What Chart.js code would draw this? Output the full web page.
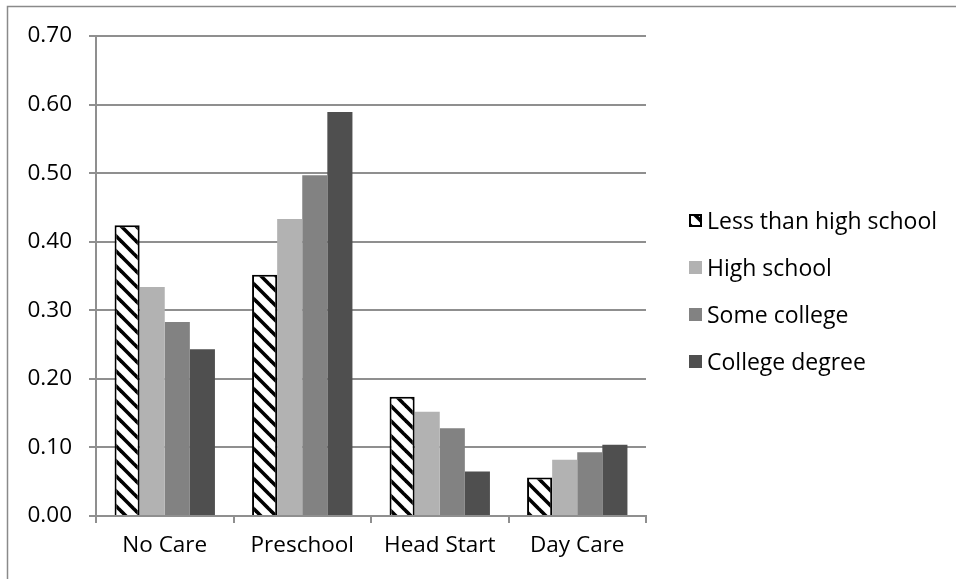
<!DOCTYPE html>
<html>
<head>
<meta charset="utf-8">
<script src="https://cdn.jsdelivr.net/npm/chart.js@4"></script>
<style>
  html, body { margin: 0; padding: 0; background: #fff; }
  #wrap { position: relative; width: 956px; height: 579px; }
</style>
</head>
<body>
<div id="wrap"><canvas id="grafico" width="956" height="579"></canvas></div>
<script>
// datos del grafico
var categorias = ["No Care", "Preschool", "Head Start", "Day Care"];
var series = ["Less than high school", "High school", "Some college", "College degree"];
var menosSecundaria = [0.424, 0.352, 0.174, 0.056];
var secundaria = [0.334, 0.433, 0.152, 0.082];
var algoUniversidad = [0.283, 0.497, 0.128, 0.093];
var universidad = [0.243, 0.589, 0.065, 0.104];
var ticksY = [0, 0.1, 0.2, 0.3, 0.4, 0.5, 0.6, 0.7];

var fuente = "'Open Sans', sans-serif";
var tamano = 22.5;
var tamanoLeyenda = 23;

// trama de rayas diagonales para la primera serie
function crearTrama() {
    var t = 15;
    var c = document.createElement("canvas");
    c.width = t; c.height = t;
    var g = c.getContext("2d");
    g.fillStyle = "#fff";
    g.fillRect(0, 0, t, t);
    g.strokeStyle = "#000";
    g.lineWidth = 3.6;
    for (var k = -1; k <= 1; k++) {
        g.beginPath();
        g.moveTo(k * t - 2, -2);
        g.lineTo(k * t + t + 2, t + 2);
        g.stroke();
    }
    return g.createPattern(c, "repeat");
}
var trama = crearTrama();

var colores = [trama, "#b2b2b2", "#828282", "#4f4f4f"];
var valores = [menosSecundaria, secundaria, algoUniversidad, universidad];

// marco exterior y leyenda dibujada a mano
var marcoYLeyenda = {
    id: "marcoYLeyenda",
    beforeDraw: function (chart) {
        var ctx = chart.ctx;
        ctx.save();
        ctx.strokeStyle = "#8a8a8a";
        ctx.lineWidth = 1.5;
        ctx.strokeRect(7.5, 6.5, 1200, 1200);
        ctx.restore();
    },
    afterDraw: function (chart) {
        var ctx = chart.ctx;
        ctx.save();
        ctx.font = tamanoLeyenda + "px " + fuente;
        ctx.textBaseline = "middle";
        chart.data.datasets.forEach(function (ds, i) {
            var y = 221 + i * 47;
            var x = 689;
            ctx.fillStyle = ds.backgroundColor;
            ctx.fillRect(x, y - 7, 13, 13);
            if (i === 0) {
                ctx.strokeStyle = "#000";
                ctx.lineWidth = 2;
                ctx.strokeRect(x + 1, y - 6, 11, 11);
            }
            ctx.fillStyle = "#000";
            ctx.fillText(ds.label, 707, y + 1);
        });
        ctx.restore();
    }
};

var datasets = series.map(function (nombre, i) {
    return {
        label: nombre,
        data: valores[i],
        backgroundColor: colores[i],
        borderColor: "#000",
        borderWidth: i === 0 ? 2 : 0,
        categoryPercentage: 0.73,
        barPercentage: 1.0
    };
});

var chart = new Chart(document.getElementById("grafico"), {
    type: "bar",
    data: { labels: categorias, datasets: datasets },
    plugins: [marcoYLeyenda],
    options: {
        responsive: false,
        animation: false,
        layout: { padding: { top: 36, right: 310, left: 0, bottom: 0 } },
        plugins: { legend: { display: false }, tooltip: { enabled: false } },
        scales: {
            x: {
                afterFit: function (s) { s.height = 63; },
                grid: {
                    drawOnChartArea: false,
                    drawTicks: true,
                    tickLength: 7,
                    color: "#8f8f8f",
                    lineWidth: 2
                },
                border: { color: "#8f8f8f", width: 2 },
                ticks: {
                    color: "#000",
                    padding: 9,
                    font: { family: fuente, size: tamano }
                }
            },
            y: {
                min: 0,
                max: 0.7,
                afterFit: function (s) { s.width = 96; },
                afterBuildTicks: function (s) {
                    s.ticks = ticksY.map(function (v) { return { value: v }; });
                },
                grid: {
                    color: "#8f8f8f",
                    lineWidth: 2,
                    tickLength: 7
                },
                border: { color: "#8f8f8f", width: 2 },
                ticks: {
                    color: "#000",
                    padding: 17,
                    font: { family: fuente, size: tamano },
                    callback: function (v) { return Number(v).toFixed(2); }
                }
            }
        }
    }
});
</script>
</body>
</html>
